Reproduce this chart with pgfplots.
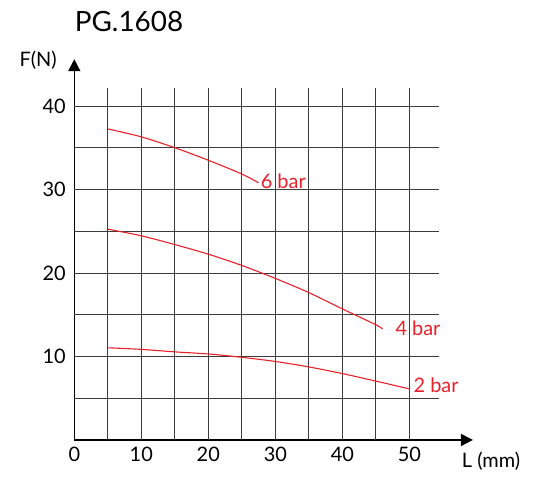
\documentclass[border=0pt]{standalone}
\usepackage{fontspec}
\setmainfont{Lato}
\usepackage{pgfplots}
\pgfplotsset{compat=1.18}
\usetikzlibrary{arrows.meta}
\definecolor{cred}{RGB}{232,32,42}
\definecolor{gridc}{RGB}{60,60,60}
\begin{document}
\begin{tikzpicture}
\begin{axis}[
  x=6.7bp, y=8.35bp,
  xmin=0, xmax=59.5, ymin=0, ymax=45.6,
  axis lines=left,
  axis line style={line width=1.6bp, -{Triangle[length=12bp,width=12bp]}},
  clip=false,
  xtick={0,10,...,50}, ytick={10,20,30,40},
  major tick length=0,
  tick label style={font=\fontsize{20}{22}\selectfont},
  xticklabel style={yshift=-4bp},
  yticklabel style={xshift=-5bp},
  /pgf/number format/assume math mode=true,
]
\path (axis cs:-11.09,-4.55) rectangle (axis cs:68.76,52.69);
\pgfplotsinvokeforeach{5,10,...,50}{
  \draw[gridc, line width=0.9bp] (axis cs:#1,0) -- (axis cs:#1,42.2);
}
\pgfplotsinvokeforeach{5,10,...,40}{
  \draw[gridc, line width=0.9bp] (axis cs:0,#1) -- (axis cs:54.4,#1);
}
\addplot[cred, line width=1.1bp, smooth] coordinates {(5,37.25)(10,36.3)(15,35.0)(20,33.5)(25,31.85)(27.5,30.8)};
\addplot[cred, line width=1.1bp, smooth] coordinates {(5,25.25)(10,24.45)(15,23.4)(20,22.25)(25,20.9)(30,19.35)(35,17.65)(40,15.7)(45,13.8)(46,13.3)};
\addplot[cred, line width=1.1bp, smooth] coordinates {(5,11.04)(10,10.85)(15,10.55)(20,10.3)(25,9.9)(30,9.4)(35,8.75)(40,7.95)(45,7.05)(50.1,6.1)};
\node[cred, font=\fontsize{20}{22}\selectfont] at (axis cs:31.2,30.96) {6 bar};
\node[cred, font=\fontsize{20}{22}\selectfont] at (axis cs:51.3,13.4) {4 bar};
\node[cred, font=\fontsize{20}{22}\selectfont] at (axis cs:54.0,6.5) {2 bar};
\node[font=\fontsize{20}{22}\selectfont] at (axis cs:-5.4,45.5) {F(N)};
\node[font=\fontsize{20}{22}\selectfont] at (axis cs:62.2,-2.5) {L (mm)};
\node[font=\fontsize{28}{30}\selectfont] at (axis cs:8.16,50.06) {PG.1608};
\end{axis}
\end{tikzpicture}
\end{document}
